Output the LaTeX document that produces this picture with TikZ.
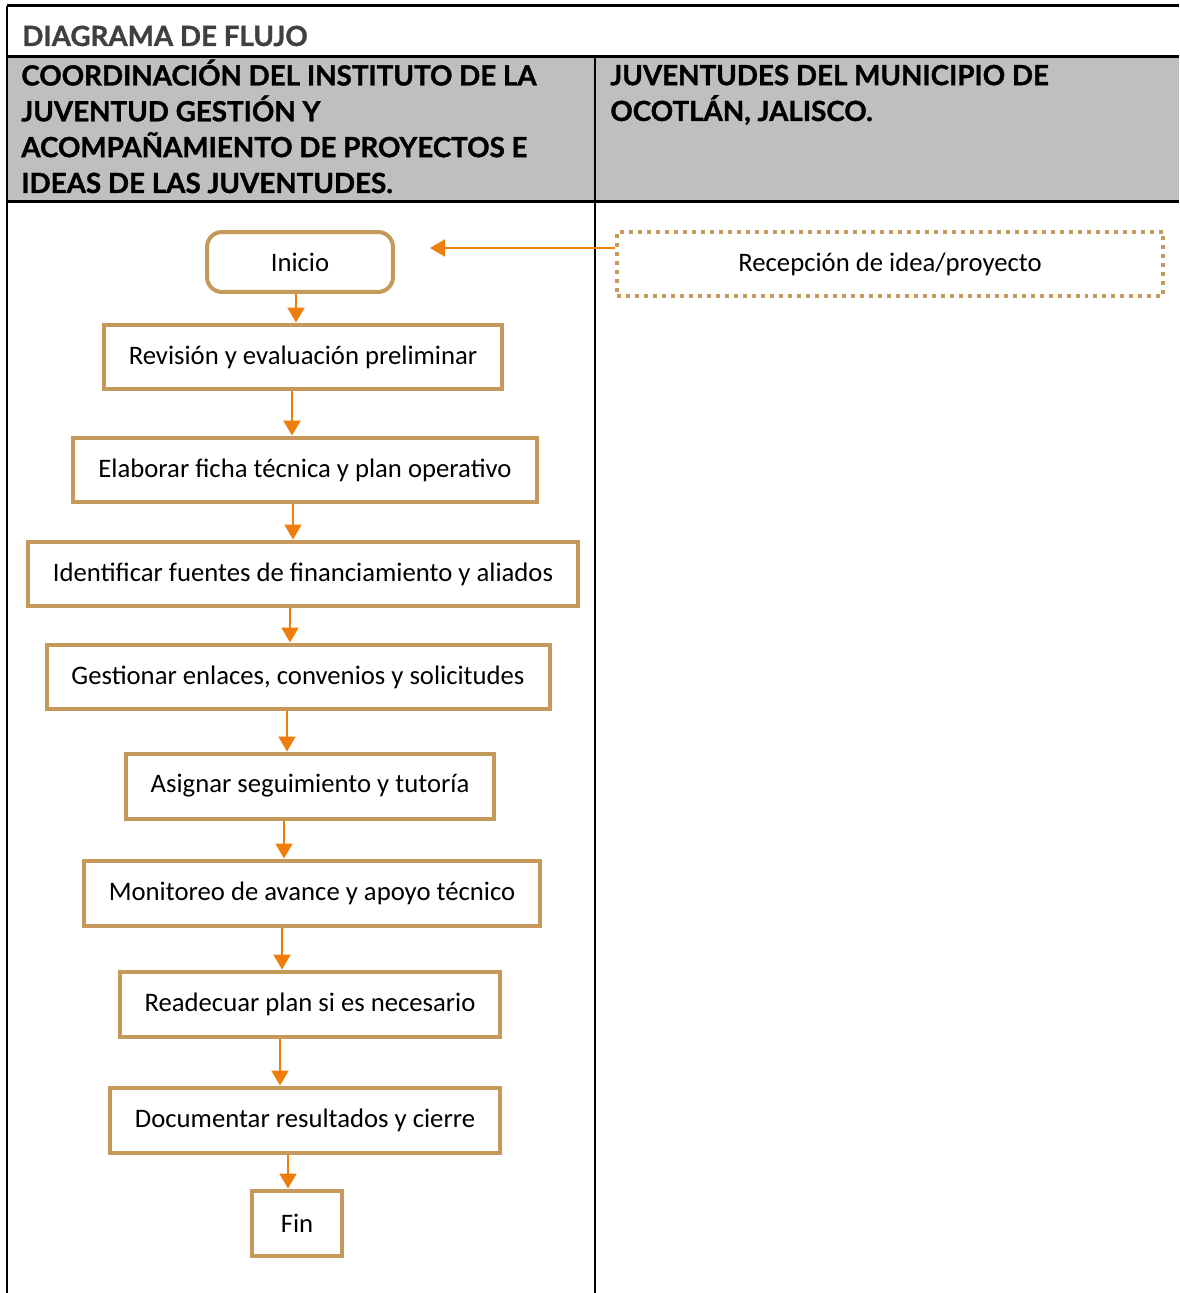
\documentclass[tikz,border=0pt]{standalone}
\usepackage{fontspec}
\setmainfont{Carlito}
\newfontfamily\headfont{Lato}[BoldFeatures={FakeBold=1.2}]
\usetikzlibrary{arrows.meta, calc}
\definecolor{tan}{HTML}{C4995A}
\definecolor{naranja}{HTML}{F07D0A}
\definecolor{gris}{HTML}{BFBFBF}
\definecolor{titgris}{HTML}{404040}

\begin{document}
\begin{tikzpicture}[x=0.02cm, y=-0.02cm,
    pb/.style={rectangle, draw=tan, line width=0.08cm, fill=white, inner xsep=0.5cm,
        minimum height=1.3cm, font=\fontsize{15.2}{18}\selectfont},
    hd/.style={anchor=base west, align=left, inner sep=0,
        font=\headfont\bfseries\fontsize{15.8}{20.4}\selectfont},
    arr/.style={-{Triangle[length=0.3cm,width=0.34cm]}, draw=naranja, line width=0.04cm}]
    \useasboundingbox (0,0) rectangle (1179,1293);

    % tabla
    \fill[gris] (7,57) rectangle (1179,202);
    \draw[line width=0.06cm] (7,6) -- (1179,6);
    \draw[line width=0.06cm] (7,57) -- (1179,57);
    \draw[line width=0.06cm] (7,202) -- (1179,202);
    \draw[line width=0.05cm] (7,6) -- (7,1293);
    \draw[line width=0.05cm] (595,57) -- (595,1293);

    % base = linea final del texto
    \node[hd, text=titgris] (titulo) at (22,46) {DIAGRAMA DE FLUJO};
    \node[hd] (col1) at (21,193) {COORDINACIÓN DEL INSTITUTO DE LA\\JUVENTUD GESTIÓN Y\\ACOMPAÑAMIENTO DE PROYECTOS E\\IDEAS DE LAS JUVENTUDES.};
    \node[hd] (col2) at (610,121) {JUVENTUDES DEL MUNICIPIO DE\\OCOTLÁN, JALISCO.};

    % pasos
    \node[pb, rounded corners=0.3cm, minimum width=3.72cm, minimum height=1.2cm] (ini) at (300,262) {Inicio};
    \node[pb] (rev) at (303,357) {Revisión y evaluación preliminar};
    \node[pb] (ela) at (305,470) {Elaborar ficha técnica y plan operativo};
    \node[pb] (ide) at (303,574) {Identificar fuentes de financiamiento y aliados};
    \node[pb] (ges) at (298,677) {Gestionar enlaces, convenios y solicitudes};
    \node[pb] (asi) at (310,786) {Asignar seguimiento y tutoría};
    \node[pb] (mon) at (312,893) {Monitoreo de avance y apoyo técnico};
    \node[pb] (rea) at (310,1004) {Readecuar plan si es necesario};
    \node[pb] (doc) at (305,1120) {Documentar resultados y cierre};
    \node[pb, minimum width=1.82cm, inner xsep=0.2cm] (fin) at (297,1223) {Fin};

    \node[pb, dash pattern=on 0.08cm off 0.1cm, minimum width=10.94cm] (rec) at (890,264) {Recepción de idea/proyecto};

    \foreach \a/\b/\x in {ini/rev/296, rev/ela/292, ela/ide/293, ide/ges/290, ges/asi/287,
        asi/mon/284, mon/rea/282, rea/doc/280, doc/fin/288}
        \draw[arr] (\a.south -| \x,0) -- (\b.north -| \x,0);

    \coordinate (llega) at (430,248);
    \draw[arr] (rec.west |- llega) -- (llega);
\end{tikzpicture}
\end{document}
